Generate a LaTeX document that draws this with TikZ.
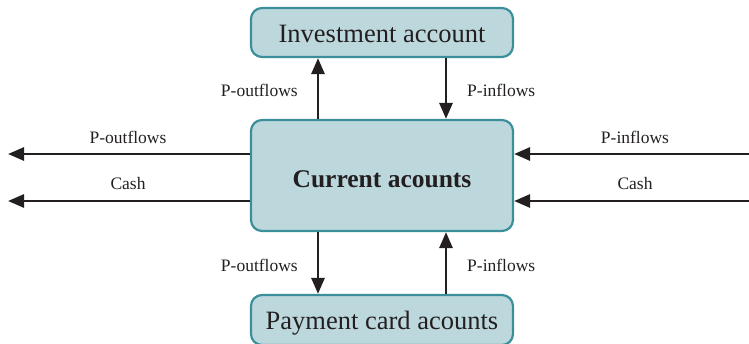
\documentclass[tikz,border=0pt]{standalone}
\usepackage{fontspec}
\setmainfont{Liberation Serif}
\usetikzlibrary{arrows.meta}
\definecolor{boxfill}{HTML}{BDD8DD}
\definecolor{boxline}{HTML}{3A8F9B}
\definecolor{ink}{HTML}{231F20}
\begin{document}
\begin{tikzpicture}[x=1pt,y=1pt,
  acct/.style={draw=boxline,fill=boxfill,line width=2.2pt,rounded corners=11pt,text=ink},
  flow/.style={draw=ink,line width=2.8pt,-{Triangle[length=16pt,width=13pt]}},
  lbl/.style={text=ink,font=\fontsize{17.5}{20}\selectfont,inner sep=0pt}]
\useasboundingbox (0,0) rectangle (749,343);
\clip (0,0) rectangle (749,343);
\node[acct,minimum width=262pt,minimum height=49pt,font=\fontsize{26.5}{30}\selectfont] (inv) at (382,310.5) {\raisebox{-1pt}[\height][\depth]{Investment account}};
\node[acct,minimum width=262pt,minimum height=111pt,font=\bfseries\fontsize{25.5}{29}\selectfont] (cur) at (382,167.5) {\raisebox{-4pt}[\height][\depth]{Current acounts}};
\node[acct,minimum width=262pt,minimum height=50pt,font=\fontsize{26.5}{30}\selectfont] (pay) at (382,23) {\raisebox{-3pt}[\height][\depth]{Payment card acounts}};
\coordinate (L1) at (8,189);
\coordinate (L2) at (8,142);
\coordinate (R1) at (749,189);
\coordinate (R2) at (749,142);
\draw[flow] (cur.north -| 318,0) -- (inv.south -| 318,0);
\draw[flow] (inv.south -| 446,0) -- (cur.north -| 446,0);
\draw[flow] (cur.south -| 318,0) -- (pay.north -| 318,0);
\draw[flow] (pay.north -| 446,0) -- (cur.south -| 446,0);
\draw[flow] (cur.west |- L1) -- (L1);
\draw[flow] (cur.west |- L2) -- (L2);
\draw[flow] (R1) -- (cur.east |- R1);
\draw[flow] (R2) -- (cur.east |- R2);
\node[lbl,anchor=east] (l1) at (298,253) {P-outflows};
\node[lbl,anchor=west] (l2) at (467,253) {P-inflows};
\node[lbl,anchor=east] (l3) at (298,78) {P-outflows};
\node[lbl,anchor=west] (l4) at (467,78) {P-inflows};
\node[lbl] (l5) at (128,206) {P-outflows};
\node[lbl] (l6) at (128,159) {Cash};
\node[lbl] (l7) at (635,206) {P-inflows};
\node[lbl] (l8) at (635,159) {Cash};
\end{tikzpicture}
\end{document}
